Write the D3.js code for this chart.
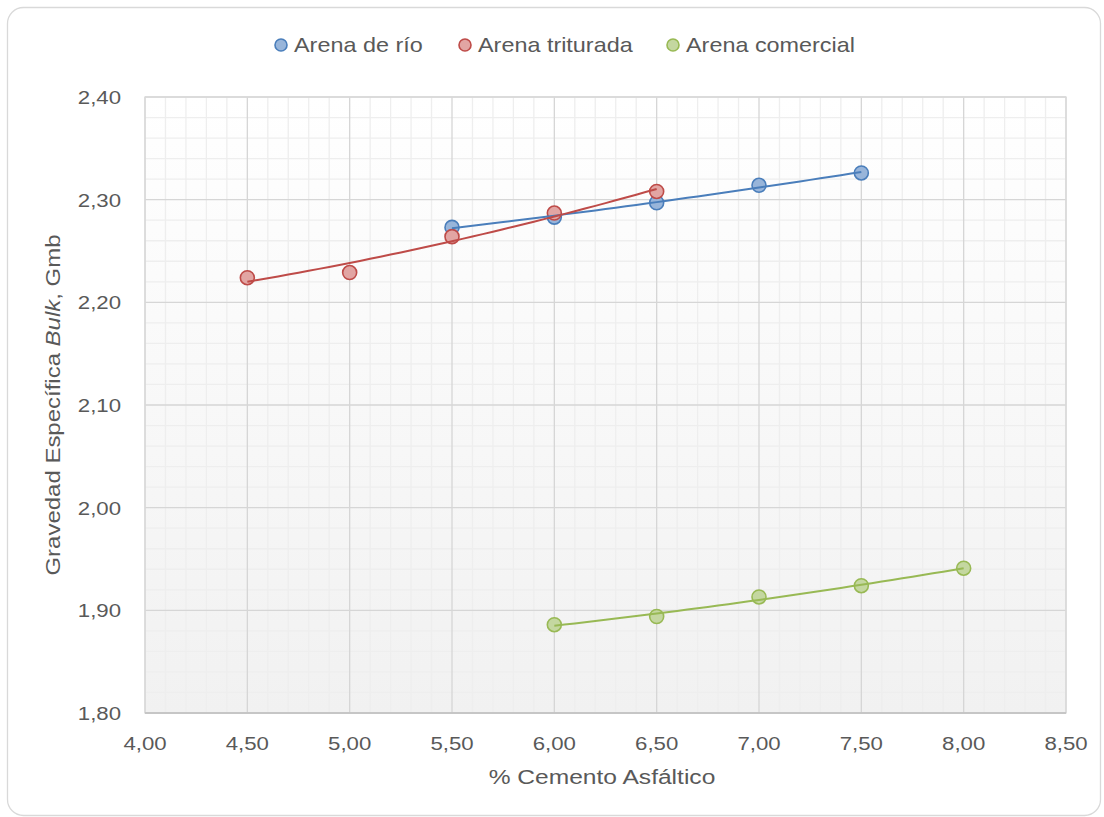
<!DOCTYPE html>
<html>
<head>
<meta charset="utf-8">
<script src="https://cdn.jsdelivr.net/npm/d3@7"></script>
<style>
  html, body { margin: 0; padding: 0; background: #ffffff; }
  svg { display: block; font-family: "Liberation Sans", Arial, sans-serif; }
</style>
</head>
<body>
<svg id="chart" width="1104" height="817"></svg>
<script>
// ---- data ----
const seriesNames = ["Arena de río", "Arena triturada", "Arena comercial"];
const rioX = [5.5, 6.0, 6.5, 7.0, 7.5];
const rioY = [2.273, 2.283, 2.297, 2.314, 2.326];
const trituradaX = [4.5, 5.0, 5.5, 6.0, 6.5];
const trituradaY = [2.224, 2.229, 2.264, 2.287, 2.308];
const comercialX = [6.0, 6.5, 7.0, 7.5, 8.0];
const comercialY = [1.886, 1.894, 1.913, 1.924, 1.941];
const xTicks = [4.0, 4.5, 5.0, 5.5, 6.0, 6.5, 7.0, 7.5, 8.0, 8.5];
const yTicks = [1.8, 1.9, 2.0, 2.1, 2.2, 2.3, 2.4];
const xTitle = "% Cemento Asfáltico";

const series = [
  { name: seriesNames[0], xs: rioX, ys: rioY, fill: "#98b5da", stroke: "#4a7ebb", line: "#4a7ebb" },
  { name: seriesNames[1], xs: trituradaX, ys: trituradaY, fill: "#e2a5a3", stroke: "#be4b48", line: "#be4b48" },
  { name: seriesNames[2], xs: comercialX, ys: comercialY, fill: "#c4d7a0", stroke: "#98b954", line: "#98b954" }
];

// ---- layout ----
const svg = d3.select("#chart");
const plot = { left: 145, right: 1066, top: 97, bottom: 713 };
const textColor = "#595959";
const SX = 1.17; // horizontal glyph stretch

const x = d3.scaleLinear().domain([4.0, 8.5]).range([plot.left, plot.right]);
const y = d3.scaleLinear().domain([1.8, 2.4]).range([plot.bottom, plot.top]);

function fmt(v) { return d3.format(".2f")(v).replace(".", ","); }

function stretched(parent, px, py, anchor, size, str, rot) {
  const g = parent.append("g")
    .attr("transform", `translate(${px},${py})` + (rot ? ` rotate(${rot})` : "") + ` scale(${SX},1)`);
  const t = g.append("text")
    .attr("text-anchor", anchor)
    .attr("font-size", size)
    .attr("fill", textColor);
  if (str !== null) t.text(str);
  return t;
}

// outer frame
svg.append("rect")
  .attr("x", 7.5).attr("y", 7.5).attr("width", 1093).attr("height", 808)
  .attr("rx", 16).attr("ry", 16)
  .attr("fill", "#ffffff").attr("stroke", "#d9d9d9").attr("stroke-width", 1.3);

// plot background gradient
const defs = svg.append("defs");
const grad = defs.append("linearGradient").attr("id", "bg")
  .attr("x1", 0).attr("y1", 0).attr("x2", 0).attr("y2", 1);
grad.append("stop").attr("offset", "0%").attr("stop-color", "#ffffff");
grad.append("stop").attr("offset", "100%").attr("stop-color", "#f1f1f1");

svg.append("rect")
  .attr("x", plot.left).attr("y", plot.top)
  .attr("width", plot.right - plot.left).attr("height", plot.bottom - plot.top)
  .attr("fill", "url(#bg)");

// minor grid
const minorX = d3.range(40, 86).map(d => d / 10).filter(d => Math.abs(d * 2 - Math.round(d * 2)) > 1e-6);
const minorY = d3.range(90, 121).map(d => d / 50).filter(d => Math.abs(d * 10 - Math.round(d * 10)) > 1e-6);
const grid = svg.append("g");
grid.selectAll(".mx").data(minorX).join("line")
  .attr("x1", d => x(d)).attr("x2", d => x(d))
  .attr("y1", plot.top).attr("y2", plot.bottom)
  .attr("stroke", "#eeeeee").attr("stroke-width", 1.3);
grid.selectAll(".my").data(minorY).join("line")
  .attr("y1", d => y(d)).attr("y2", d => y(d))
  .attr("x1", plot.left).attr("x2", plot.right)
  .attr("stroke", "#eeeeee").attr("stroke-width", 1.3);
// major grid
grid.selectAll(".Mx").data(xTicks).join("line")
  .attr("x1", d => x(d)).attr("x2", d => x(d))
  .attr("y1", plot.top).attr("y2", plot.bottom)
  .attr("stroke", "#d6d6d6").attr("stroke-width", 1.3);
grid.selectAll(".My").data(yTicks).join("line")
  .attr("y1", d => y(d)).attr("y2", d => y(d))
  .attr("x1", plot.left).attr("x2", plot.right)
  .attr("stroke", "#d6d6d6").attr("stroke-width", 1.3);

// plot border
svg.append("rect")
  .attr("x", plot.left).attr("y", plot.top)
  .attr("width", plot.right - plot.left).attr("height", plot.bottom - plot.top)
  .attr("fill", "none").attr("stroke", "#d9d9d9").attr("stroke-width", 1.3);
svg.append("line")
  .attr("x1", plot.left).attr("x2", plot.right)
  .attr("y1", plot.bottom).attr("y2", plot.bottom)
  .attr("stroke", "#bfbfbf").attr("stroke-width", 1.5);

// tick labels
const xAxisG = svg.append("g");
xTicks.forEach(v => stretched(xAxisG, x(v), 750, "middle", "19px", fmt(v)));
const yAxisG = svg.append("g");
yTicks.forEach(v => stretched(yAxisG, 121, y(v) + 7, "end", "19px", fmt(v)));

// axis titles
stretched(svg, 602, 784, "middle", "21px", xTitle);
const yt = stretched(svg, 60, 405, "middle", "20.5px", null, -90);
yt.append("tspan").text("Gravedad Específica ");
yt.append("tspan").attr("font-style", "italic").text("Bulk");
yt.append("tspan").text(", Gmb");

// quadratic least squares trendline
function quadFit(xs, ys) {
  const n = xs.length;
  let s = [0, 0, 0, 0, 0], t = [0, 0, 0];
  for (let i = 0; i < n; i++) {
    const xi = xs[i], yi = ys[i];
    for (let k = 0; k < 5; k++) s[k] += Math.pow(xi, k);
    for (let k = 0; k < 3; k++) t[k] += Math.pow(xi, k) * yi;
  }
  const A = [[s[0], s[1], s[2], t[0]], [s[1], s[2], s[3], t[1]], [s[2], s[3], s[4], t[2]]];
  for (let c = 0; c < 3; c++) {
    let p = c;
    for (let r = c + 1; r < 3; r++) if (Math.abs(A[r][c]) > Math.abs(A[p][c])) p = r;
    [A[c], A[p]] = [A[p], A[c]];
    for (let r = 0; r < 3; r++) {
      if (r === c) continue;
      const f = A[r][c] / A[c][c];
      for (let k = c; k < 4; k++) A[r][k] -= f * A[c][k];
    }
  }
  const coef = [A[0][3] / A[0][0], A[1][3] / A[1][1], A[2][3] / A[2][2]];
  return v => coef[0] + coef[1] * v + coef[2] * v * v;
}

// markers
const marks = svg.append("g");
series.forEach(s => {
  marks.append("g").selectAll("circle")
    .data(s.xs.map((v, i) => [v, s.ys[i]]))
    .join("circle")
    .attr("cx", d => x(d[0])).attr("cy", d => y(d[1])).attr("r", 7)
    .attr("fill", s.fill).attr("stroke", s.stroke).attr("stroke-width", 1.6);
});

// trendlines
const line = d3.line().x(d => x(d[0])).y(d => y(d[1]));
series.forEach(s => {
  const f = quadFit(s.xs, s.ys);
  const x0 = d3.min(s.xs), x1 = d3.max(s.xs);
  const pts = d3.range(0, 41).map(i => { const v = x0 + (x1 - x0) * i / 40; return [v, f(v)]; });
  svg.append("path").attr("d", line(pts))
    .attr("fill", "none").attr("stroke", s.line).attr("stroke-width", 2);
});

// legend
const legend = svg.append("g");
const legendPos = [281, 465, 673];
series.forEach((s, i) => {
  legend.append("circle").attr("cx", legendPos[i]).attr("cy", 45).attr("r", 6)
    .attr("fill", s.fill).attr("stroke", s.stroke).attr("stroke-width", 1.6);
  stretched(legend, legendPos[i] + 13, 52, "start", "20px", s.name);
});
</script>
</body>
</html>
